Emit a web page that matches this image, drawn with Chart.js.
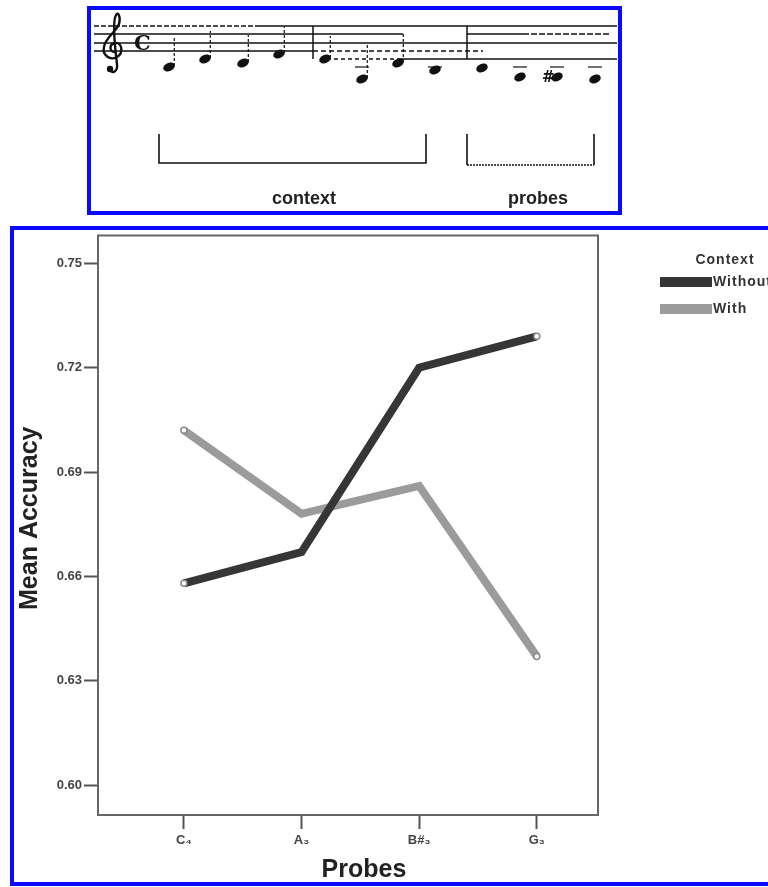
<!DOCTYPE html>
<html lang="en">
<head>
<meta charset="utf-8" />
<title>Mean Accuracy by Probe</title>
<script src="https://cdn.jsdelivr.net/npm/chart.js@4.4.0/dist/chart.umd.min.js"></script>
<style>
    body { margin: 0; background: #fff; width: 768px; height: 887px; overflow: hidden; position: relative;
           font-family: "Liberation Sans", Arial, sans-serif; }
    #staffBox { position: absolute; left: 87px; top: 6px; width: 527px; height: 201px; border: 4px solid #0a0aff; }
    #chartBox { position: absolute; left: 10px; top: 226px; width: 820px; height: 652px; border: 4px solid #0a0aff; }
    #staff { position: absolute; left: 0; top: 0; }
    #myChart { position: absolute; left: 14px; top: 230px; }
    .lbl { position: absolute; font-weight: bold; font-size: 18px; color: #222; transform: translate(-50%, -50%); }
</style>
</head>
<body>
    <div id="staffBox"></div>
    <div id="chartBox"></div>
    <canvas id="staff" width="768" height="225"></canvas>
    <div class="lbl" style="left:304px; top:198px;">context</div>
    <div class="lbl" style="left:538px; top:198px;">probes</div>
    <canvas id="myChart" width="754" height="652"></canvas>

<script>
// chart data
var probes = ['C\u2084', 'A\u2083', 'B#\u2083', 'G\u2083'];
var withoutContext = [0.658, 0.667, 0.720, 0.729];
var withContext = [0.702, 0.678, 0.686, 0.637];
var yTicks = [0.60, 0.63, 0.66, 0.69, 0.72, 0.75];
var legendTitle = 'Context';
var xTitle = 'Probes';
var yTitle = 'Mean Accuracy';

// ---- the little score above the chart (plain canvas drawing) ----
var sc = document.getElementById('staff').getContext('2d');
sc.strokeStyle = '#111';
sc.fillStyle = '#111';

function seg(x1, x2, y, dash) {
    sc.setLineDash(dash || []);
    sc.lineWidth = 1.3;
    sc.beginPath();
    sc.moveTo(x1, y);
    sc.lineTo(x2, y);
    sc.stroke();
}
// staff lines (scan is patchy, so some are dashed)
seg(94, 260, 26, [5, 2]); seg(260, 617, 26);
seg(94, 403, 34); seg(467, 523, 34); seg(523, 610, 34, [6, 2]);
seg(94, 617, 43);
seg(94, 313, 51); seg(313, 483, 51, [5, 3]);
seg(327, 400, 59, [4, 3]); seg(400, 617, 59);
sc.setLineDash([]);

// bar lines
sc.lineWidth = 1.5;
[313, 467].forEach(function (x) {
    sc.beginPath(); sc.moveTo(x, 26); sc.lineTo(x, 59); sc.stroke();
});

// treble clef (rough)
sc.lineWidth = 2.4;
sc.beginPath();
sc.moveTo(115, 52);
sc.bezierCurveTo(109, 52, 109, 44, 115, 43);
sc.bezierCurveTo(122, 42, 124, 53, 117, 57);
sc.bezierCurveTo(110, 61, 102, 55, 104, 47);
sc.bezierCurveTo(105, 38, 116, 32, 119, 24);
sc.bezierCurveTo(121, 17, 118, 11, 116, 15);
sc.bezierCurveTo(113, 20, 114, 40, 117, 64);
sc.bezierCurveTo(118, 72, 112, 74, 110, 70);
sc.stroke();
sc.beginPath(); sc.arc(110, 69, 3.2, 0, Math.PI * 2); sc.fill();

// common time
sc.font = 'bold 21px "DejaVu Serif", serif';
sc.fillText('C', 134, 50);

// notes: [x, y, stemTop or 0, ledger]
var notes = [
    [169, 67, 38, 0], [205, 59, 31, 0], [243, 63, 35, 0], [279, 54, 26, 0],
    [325, 59, 36, 0], [362, 79, 45, 1], [398, 63, 34, 0], [435, 70, 0, 1],
    [482, 68, 0, 0], [520, 77, 0, 1], [557, 77, 0, 1], [595, 79, 0, 1]
];
notes.forEach(function (n) {
    sc.beginPath();
    sc.ellipse(n[0], n[1], 6, 4.2, -0.4, 0, Math.PI * 2);
    sc.fill();
    if (n[2]) {
        sc.setLineDash([3, 2]);
        sc.lineWidth = 1.2;
        sc.beginPath(); sc.moveTo(n[0] + 5.3, n[1] - 1); sc.lineTo(n[0] + 5.3, n[2]); sc.stroke();
        sc.setLineDash([]);
    }
    if (n[3]) {
        sc.lineWidth = 1.2;
        sc.beginPath(); sc.moveTo(n[0] - 7, 67); sc.lineTo(n[0] + 7, 67); sc.stroke();
    }
});
// sharp sign
sc.font = 'bold 15px "DejaVu Sans", sans-serif';
sc.fillText('#', 542, 82);

// brackets
sc.lineWidth = 1.6;
sc.beginPath();
sc.moveTo(159, 134); sc.lineTo(159, 163); sc.lineTo(426, 163); sc.lineTo(426, 134);
sc.stroke();
sc.beginPath(); sc.moveTo(467, 134); sc.lineTo(467, 165); sc.moveTo(594, 134); sc.lineTo(594, 165); sc.stroke();
sc.setLineDash([2, 1]);
sc.beginPath(); sc.moveTo(467, 165); sc.lineTo(594, 165); sc.stroke();
sc.setLineDash([]);

// ---- the chart ----
var FONT = '"Liberation Sans", Arial, sans-serif';

var frameAndLegend = {
    id: 'frameAndLegend',
    afterDraw: function (chart) {
        var c = chart.ctx, a = chart.chartArea;
        c.save();
        c.strokeStyle = '#666';
        c.lineWidth = 2;
        c.strokeRect(a.left, a.top, a.right - a.left, a.bottom - a.top);

        // axis titles
        c.fillStyle = '#222';
        c.font = 'bold 25px ' + FONT;
        c.textAlign = 'center';
        c.textBaseline = 'middle';
        c.fillText(xTitle, (a.left + a.right) / 2 + 16, a.bottom + 55);
        c.save();
        c.translate(a.left - 68, (a.top + a.bottom) / 2 - 7);
        c.rotate(-Math.PI / 2);
        c.fillText(yTitle, 0, 0);
        c.restore();

        // legend
        c.fillStyle = '#333';
        c.font = 'bold 14px ' + FONT;
        c.letterSpacing = '1px';
        c.fillText(legendTitle, a.right + 127, 30);
        c.textAlign = 'left';
        chart.data.datasets.forEach(function (ds, i) {
            var y = 52 + i * 27;
            c.fillStyle = ds.borderColor;
            c.fillRect(a.right + 62, y - 5, 52, 10);
            c.fillStyle = '#333';
            c.fillText(ds.label, a.right + 115, y);
        });
        c.restore();
    }
};

var ctx = document.getElementById('myChart').getContext('2d');
var myChart = new Chart(ctx, {
    type: 'line',
    data: {
        datasets: [{
            label: 'Without',
            data: probes.map(function (p, i) { return { x: i, y: withoutContext[i] }; }),
            borderColor: '#363636',
            borderWidth: 8,
            pointRadius: [3, 0, 0, 3],
            pointBackgroundColor: '#fff',
            pointBorderColor: '#888',
            pointBorderWidth: 1.5
        }, {
            label: 'With',
            data: probes.map(function (p, i) { return { x: i, y: withContext[i] }; }),
            borderColor: '#9b9b9b',
            borderWidth: 8,
            pointRadius: [3, 0, 0, 3],
            pointBackgroundColor: '#fff',
            pointBorderColor: '#888',
            pointBorderWidth: 1.5
        }]
    },
    options: {
        responsive: false,
        animation: false,
        layout: { padding: { top: 5, right: 170, left: 0, bottom: 0 } },
        plugins: { legend: { display: false }, tooltip: { enabled: false } },
        scales: {
            x: {
                type: 'linear',
                min: -0.73,
                max: 3.52,
                afterBuildTicks: function (scale) {
                    scale.ticks = probes.map(function (p, i) { return { value: i }; });
                },
                afterFit: function (scale) {
                    scale.height = 67;
                    scale.paddingLeft = 0;
                    scale.paddingRight = 0;
                },
                grid: { drawOnChartArea: false, drawTicks: true, tickLength: 14, tickWidth: 2, tickColor: '#555' },
                border: { display: false },
                ticks: {
                    padding: 4,
                    color: '#444',
                    font: { family: FONT, size: 13, weight: 'bold' },
                    callback: function (v) { return probes[v]; }
                }
            },
            y: {
                min: 0.5914,
                max: 0.758,
                afterBuildTicks: function (scale) {
                    scale.ticks = yTicks.map(function (v) { return { value: v }; });
                },
                afterFit: function (scale) {
                    scale.width = 84;
                    scale.paddingTop = 0;
                    scale.paddingBottom = 0;
                },
                grid: { drawOnChartArea: false, drawTicks: true, tickLength: 14, tickWidth: 2, tickColor: '#555' },
                border: { display: false },
                ticks: {
                    padding: 2,
                    color: '#444',
                    font: { family: FONT, size: 13, weight: 'bold' },
                    callback: function (v) { return v.toFixed(2); }
                }
            }
        }
    },
    plugins: [frameAndLegend]
});
</script>
</body>
</html>
